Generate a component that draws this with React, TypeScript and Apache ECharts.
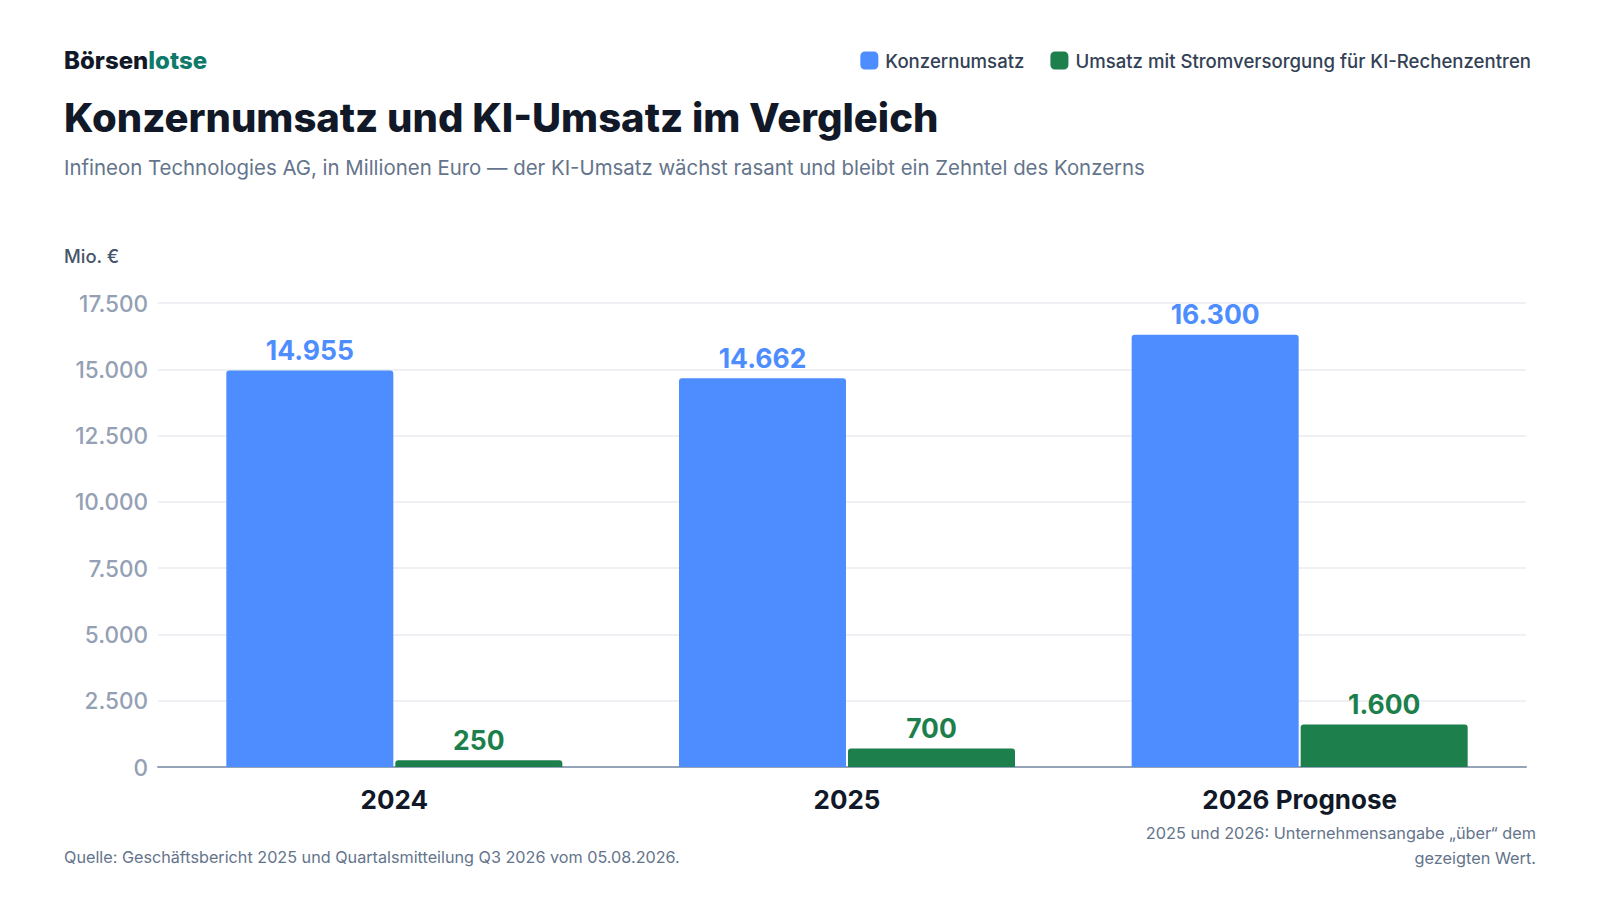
import React, { useEffect, useRef } from "react";
import * as echarts from "echarts";

const categories = ["2024", "2025", "2026 Prognose"];
const konzernumsatz = [14955, 14662, 16300];
const kiUmsatz = [250, 700, 1600];
const seriesNames = ["Konzernumsatz", "Umsatz mit Stromversorgung für KI-Rechenzentren"];
const yMin = 0;
const yMax = 17500;
const yInterval = 2500;

const FONT = "Inter, 'Noto Sans', sans-serif";
const BLUE = "#4d8dff";
const GREEN = "#1c7f4c";

function de(n: number): string {
  const s = Math.round(n).toString();
  return s.replace(/\B(?=(\d{3})+(?!\d))/g, ".");
}

export default function App() {
  const ref = useRef<HTMLDivElement>(null);
  useEffect(() => {
    document.body.style.margin = "0";
    if (!ref.current) return;
    const chart = echarts.init(ref.current, null, { renderer: "svg" });
    const gridTop = 303;
    const gridBottom = 133;
    chart.setOption({
      animation: false,
      backgroundColor: "#ffffff",
      textStyle: { fontFamily: FONT },
      legend: {
        right: 64,
        top: 46,
        itemWidth: 18,
        itemHeight: 18,
        itemGap: 26,
        icon: "roundRect",
        selectedMode: false,
        textStyle: { fontFamily: FONT, fontSize: 18.6, fontWeight: 500, color: "#334155", padding: [0, 0, 0, 2] },
        data: seriesNames,
      },
      grid: [
        { left: 158, right: 74, top: gridTop, bottom: gridBottom },
        { left: 168, right: 74, top: gridTop, bottom: gridBottom },
      ],
      xAxis: [
        {
          type: "category",
          gridIndex: 0,
          data: categories,
          axisLine: { show: true, lineStyle: { color: "#94a3b8", width: 2 } },
          axisTick: { show: false },
          axisLabel: { show: false },
          splitLine: { show: false },
        },
        {
          type: "category",
          gridIndex: 1,
          data: categories,
          axisLine: { show: false },
          axisTick: { show: false },
          axisLabel: {
            margin: 19,
            fontFamily: FONT,
            fontSize: 26,
            fontWeight: 700,
            color: "#111827",
          },
        },
      ],
      yAxis: [
        {
          type: "value",
          gridIndex: 0,
          min: yMin,
          max: yMax,
          interval: yInterval,
          axisLine: { show: false },
          axisTick: { show: false },
          axisLabel: {
            margin: 10,
            fontFamily: FONT,
            fontSize: 22.5,
            fontWeight: 500,
            color: "#94a0b4",
            formatter: (v: number) => de(v),
          },
          splitLine: { show: true, lineStyle: { color: "#e8ebef", width: 1.5 } },
        },
        {
          type: "value",
          gridIndex: 1,
          min: yMin,
          max: yMax,
          interval: yInterval,
          axisLine: { show: false },
          axisTick: { show: false },
          axisLabel: { show: false },
          splitLine: { show: false },
        },
      ],
      series: [
        {
          name: seriesNames[0],
          type: "bar",
          xAxisIndex: 1,
          yAxisIndex: 1,
          data: konzernumsatz,
          barWidth: 167,
          barGap: "1.2%",
          itemStyle: { color: BLUE, borderRadius: [3, 3, 0, 0] },
          label: {
            show: true,
            position: "top",
            distance: 7,
            fontFamily: FONT,
            fontSize: 26.5,
            fontWeight: 700,
            color: BLUE,
            formatter: (p: any) => de(p.value),
          },
        },
        {
          name: seriesNames[1],
          type: "bar",
          xAxisIndex: 1,
          yAxisIndex: 1,
          data: kiUmsatz,
          barWidth: 167,
          barGap: "1.2%",
          itemStyle: { color: GREEN, borderRadius: [3, 3, 0, 0] },
          label: {
            show: true,
            position: "top",
            distance: 7,
            fontFamily: FONT,
            fontSize: 26.5,
            fontWeight: 700,
            color: GREEN,
            formatter: (p: any) => de(p.value),
          },
        },
      ],
      graphic: [
        {
          type: "text",
          left: 64,
          top: 48,
          style: {
            text: "{a|Börsen}{b|lotse}",
            rich: {
              a: { fontFamily: FONT, fontSize: 24, fontWeight: 800, fill: "#111827" },
              b: { fontFamily: FONT, fontSize: 24, fontWeight: 800, fill: "#0f7a6a" },
            },
          },
        },
        {
          type: "text",
          left: 64,
          top: 97,
          style: {
            text: "Konzernumsatz und KI-Umsatz im Vergleich",
            fontFamily: FONT,
            fontSize: 40,
            fontWeight: 800,
            fill: "#111827",
          },
        },
        {
          type: "text",
          left: 64,
          top: 157,
          style: {
            text: "Infineon Technologies AG, in Millionen Euro — der KI-Umsatz wächst rasant und bleibt ein Zehntel des Konzerns",
            fontFamily: FONT,
            fontSize: 20.4,
            fill: "#64748b",
          },
        },
        {
          type: "text",
          left: 64,
          top: 247,
          style: {
            text: "Mio. €",
            fontFamily: FONT,
            fontSize: 18.4,
            fontWeight: 500,
            fill: "#475569",
          },
        },
        {
          type: "text",
          left: 64,
          top: 849,
          style: {
            text: "Quelle: Geschäftsbericht 2025 und Quartalsmitteilung Q3 2026 vom 05.08.2026.",
            fontFamily: FONT,
            fontSize: 16.2,
            fill: "#64748b",
          },
        },
        {
          type: "text",
          right: 64,
          top: 820,
          style: {
            text: "2025 und 2026: Unternehmensangabe „über“ dem\ngezeigten Wert.",
            fontFamily: FONT,
            fontSize: 16.3,
            lineHeight: 25,
            textAlign: "right",
            align: "right",
            fill: "#64748b",
          },
        },
      ],
    });
    return () => chart.dispose();
  }, []);
  return <div ref={ref} style={{ width: 1600, height: 900 }} />;
}
